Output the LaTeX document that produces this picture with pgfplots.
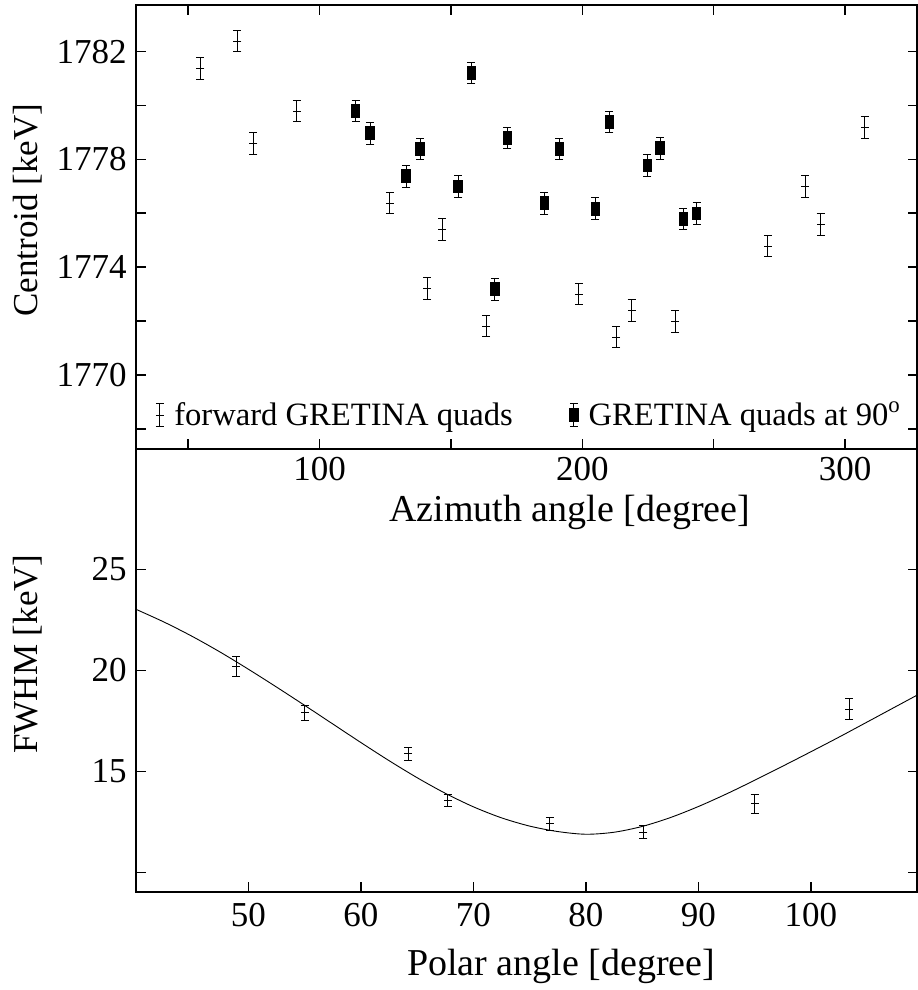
\documentclass[border=0pt]{standalone}
\usepackage{fontspec}
\setmainfont{Liberation Serif}
\usepackage{pgfplots}
\pgfplotsset{compat=1.18}
\newcommand{\ff}{\fontsize{17.5}{21}\selectfont}
\newcommand{\fx}{\fontsize{19}{23}\selectfont}
\newcommand{\fl}{\fontsize{16.3}{20}\selectfont}

\begin{document}
\begin{tikzpicture}

\pgfplotsset{
  every axis/.append style={
    scale only axis,
    width=390.75pt,
    font=\ff,
    tick align=inside,
    major tick length=5pt,
    minor tick length=5pt,
    axis line style={line width=1.2pt},
    every tick/.style={black, line width=0.8pt},
    /pgf/number format/assume math mode=true,
    /pgf/number format/set thousands separator={},
    yticklabel style={inner sep=0pt, anchor=east, xshift=-4.5pt},
  },
  errpts/.style={
    only marks, black, line width=0.5pt,
    error bars/y dir=both, error bars/y explicit,
    error bars/error bar style={line width=0.5pt, black},
    error bars/error mark options={rotate=90, black, mark size=2pt, line width=0.5pt},
  },
}

% top panel: centroid vs azimuth
\begin{axis}[
  name=top,
  at={(68pt,270.5pt)}, anchor=south west,
  height=222pt,
  xmin=30.1, xmax=327.6,
  ymin=1767.25, ymax=1783.73,
  xtick={100,200,300}, minor xtick={50,150,250},
  ytick={1770,1774,1778,1782}, minor ytick={1768,1772,1776,1780},
  xticklabel style={inner sep=0pt, anchor=north, yshift=-4pt},
  xlabel={Azimuth angle [degree]},
  xlabel style={font=\fx, at={(axis description cs:0.555,-0.142)}, anchor=center},
  ylabel={Centroid [keV]},
  ylabel style={at={(axis description cs:-0.138,0.538)}, anchor=center},
  legend columns=2,
  legend cell align=left,
  legend style={at={(axis cs:37.3,1768.5)}, anchor=west, draw=none, fill=none,
    inner sep=0pt, font=\fl,
    /tikz/every odd column/.append style={column sep=3pt},
    /tikz/every even column/.append style={column sep=26pt}},
]
\addplot+[errpts, mark=-, mark size=2pt, mark options={solid, line width=0.5pt},
  legend image code/.code={
    \draw[line width=0.5pt] (0pt,-5.75pt) -- (0pt,5.75pt);
    \draw[line width=0.5pt] (-2pt,-5.75pt) -- (2pt,-5.75pt);
    \draw[line width=0.5pt] (-2pt,5.75pt) -- (2pt,5.75pt);
    \draw[line width=0.5pt] (-2pt,0pt) -- (2pt,0pt);
  }]
table[x=x, y=y, y error=e]{
x y e
54.6 1781.38 0.4
68.7 1782.39 0.4
74.8 1778.59 0.4
91.3 1779.79 0.4
126.7 1776.38 0.4
140.9 1773.20 0.4
146.6 1775.39 0.4
163.4 1771.81 0.4
198.7 1773.00 0.4
212.9 1771.40 0.4
218.8 1772.39 0.4
235.3 1771.99 0.4
270.6 1774.78 0.4
284.8 1776.99 0.4
290.7 1775.59 0.4
307.6 1779.19 0.4
};
\addlegendentry{forward GRETINA quads}

\addplot+[errpts, mark=square*, mark size=3.2pt, mark options={solid, fill=black, xscale=0.68},
  legend image code/.code={
    \draw[line width=0.5pt] (0pt,-5.75pt) -- (0pt,5.75pt);
    \draw[line width=0.5pt] (-2pt,-5.75pt) -- (2pt,-5.75pt);
    \draw[line width=0.5pt] (-2pt,5.75pt) -- (2pt,5.75pt);
    \fill[black] (-2.2pt,-3.2pt) rectangle (2.2pt,3.2pt);
  }]
table[x=x, y=y, y error=e]{
x y e
113.7 1779.79 0.4
119.3 1778.97 0.4
133.0 1777.37 0.4
138.3 1778.38 0.4
152.8 1776.99 0.4
157.8 1781.20 0.4
166.7 1773.18 0.4
171.5 1778.79 0.4
185.6 1776.37 0.4
191.3 1778.38 0.4
205.0 1776.17 0.4
210.3 1779.38 0.4
224.8 1777.77 0.4
229.7 1778.41 0.4
238.5 1775.79 0.4
243.5 1775.99 0.4
};
\addlegendentry{GRETINA quads at 90\textsuperscript{o}}
\end{axis}

% bottom panel: FWHM vs polar angle
\begin{axis}[
  name=bottom,
  at={(68pt,49pt)}, anchor=south west,
  height=221.5pt,
  xmin=40, xmax=109.47,
  ymin=9.03, ymax=30.97,
  xtick={50,60,70,80,90,100},
  xtick pos=bottom,
  ytick={10,15,20,25}, yticklabels={,15,20,25},
  xticklabel style={inner sep=0pt, anchor=north, yshift=-5.5pt},
  xlabel={Polar angle [degree]},
  xlabel style={font=\fx, at={(axis description cs:0.544,-0.167)}, anchor=center},
  ylabel={FWHM [keV]},
  ylabel style={at={(axis description cs:-0.138,0.537)}, anchor=center},
]
\addplot+[errpts, mark=-, mark size=2pt, mark options={solid, line width=0.5pt}]
table[x=x, y=y, y error=e]{
x y e
48.9 20.20 0.51
55.0 17.90 0.38
64.2 15.87 0.32
67.7 13.58 0.30
76.8 12.41 0.33
85.1 12.00 0.31
95.0 13.40 0.46
103.4 18.09 0.51
};
\addplot[black, line width=0.45pt, smooth, no markers] coordinates {
(40,23.03) (42.5,22.397) (45,21.689) (47.5,20.906) (50,20.06) (52.5,19.177)
(55,18.27) (57.5,17.349) (60,16.429) (62.5,15.533) (65,14.688) (67.5,13.917)
(70,13.247) (72.5,12.701) (75,12.293) (77.5,12.023) (80,11.89) (82.5,11.99)
(85,12.278) (87.5,12.715) (90,13.265) (92.5,13.89) (95,14.565) (97.5,15.265)
(100,15.978) (102.5,16.703) (105,17.45) (107.5,18.2) (109.47,18.79)
};
\end{axis}

\pgfresetboundingbox
\path[use as bounding box] (0,0) rectangle (458.5pt,495pt);
\end{tikzpicture}
\end{document}
